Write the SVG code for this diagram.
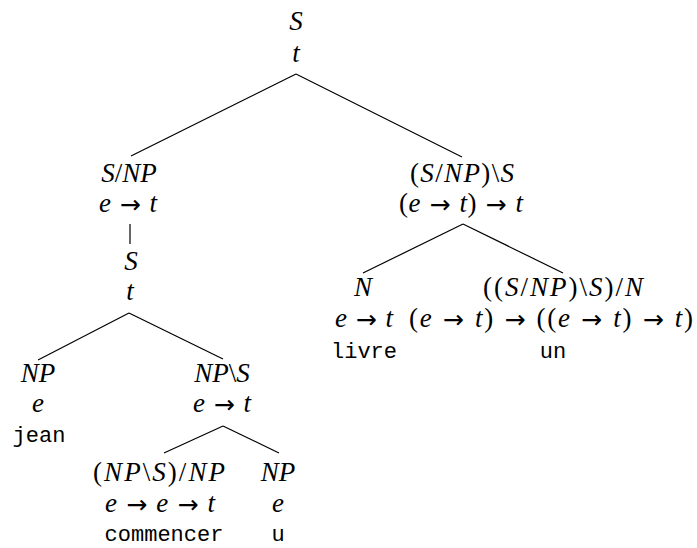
<svg xmlns="http://www.w3.org/2000/svg" width="697" height="548" viewBox="0 0 697 548">
<style>
.m{font-family:"Liberation Serif","Times New Roman","DejaVu Serif",serif;font-style:italic;font-size:27px;text-anchor:middle;fill:#000}
.u{font-style:normal}
.a{font-family:"DejaVu Sans",sans-serif;font-style:normal;font-size:25px;baseline-shift:-1px}
.w{font-family:"Liberation Mono","Courier New","DejaVu Sans Mono",monospace;font-size:22px;text-anchor:middle;fill:#000}
.e line{stroke:#000;stroke-width:1.2}
</style>
<rect width="697" height="548" fill="#fff"/>
<g id="edges" class="e">
<line x1="296" y1="74" x2="131" y2="156"/>
<line x1="296" y1="74" x2="462" y2="157"/>
<line x1="130" y1="224" x2="130" y2="244"/>
<line x1="129" y1="313" x2="38" y2="360"/>
<line x1="129" y1="313" x2="223" y2="359"/>
<line x1="223" y1="426" x2="164" y2="453"/>
<line x1="223" y1="426" x2="279" y2="453"/>
<line x1="463" y1="224" x2="363" y2="273"/>
<line x1="463" y1="224" x2="563" y2="273"/>
</g>
<g id="root">
<text class="m" x="296" y="30">S</text>
<text class="m" x="296" y="62">t</text>
</g>
<g id="s_np">
<text class="m" x="129" y="182">S<tspan class="u">/</tspan>NP</text>
<text class="m" x="128" y="212" textLength="58" lengthAdjust="spacing">e<tspan class="a"> → </tspan>t</text>
</g>
<g id="s_inner">
<text class="m" x="131" y="270">S</text>
<text class="m" x="130" y="300">t</text>
</g>
<g id="np_jean">
<text class="m" x="38" y="382">NP</text>
<text class="m" x="38" y="412">e</text>
<text class="w" x="39" y="442">jean</text>
</g>
<g id="np_s">
<text class="m" x="222" y="382">NP<tspan class="u">\</tspan>S</text>
<text class="m" x="222" y="412" textLength="58" lengthAdjust="spacing">e<tspan class="a"> → </tspan>t</text>
</g>
<g id="commencer">
<text class="m" x="159" y="481" textLength="132" lengthAdjust="spacing"><tspan class="u">(</tspan>NP<tspan class="u">\</tspan>S<tspan class="u">)/</tspan>NP</text>
<text class="m" x="160" y="512" textLength="110" lengthAdjust="spacing">e<tspan class="a"> → </tspan>e<tspan class="a"> → </tspan>t</text>
<text class="w" x="164" y="541">commencer</text>
</g>
<g id="np_u">
<text class="m" x="278" y="481">NP</text>
<text class="m" x="278" y="512">e</text>
<text class="w" x="278" y="541">u</text>
</g>
<g id="det_s">
<text class="m" x="462" y="182" textLength="104" lengthAdjust="spacing"><tspan class="u">(</tspan>S<tspan class="u">/</tspan>NP<tspan class="u">)\</tspan>S</text>
<text class="m" x="461" y="212" textLength="124" lengthAdjust="spacing"><tspan class="u">(</tspan>e<tspan class="a"> → </tspan>t<tspan class="u">)</tspan><tspan class="a"> → </tspan>t</text>
</g>
<g id="n_livre">
<text class="m" x="363" y="296">N</text>
<text class="m" x="364" y="327" textLength="58" lengthAdjust="spacing">e<tspan class="a"> → </tspan>t</text>
<text class="w" x="364" y="358">livre</text>
</g>
<g id="det_un">
<text class="m" x="563" y="296" textLength="160" lengthAdjust="spacing"><tspan class="u">((</tspan>S<tspan class="u">/</tspan>NP<tspan class="u">)\</tspan>S<tspan class="u">)/</tspan>N</text>
<text class="m" x="551" y="327" textLength="284" lengthAdjust="spacing"><tspan class="u">(</tspan>e<tspan class="a"> → </tspan>t<tspan class="u">)</tspan><tspan class="a"> → </tspan><tspan class="u">((</tspan>e<tspan class="a"> → </tspan>t<tspan class="u">)</tspan><tspan class="a"> → </tspan>t<tspan class="u">)</tspan></text>
<text class="w" x="553" y="358">un</text>
</g>
</svg>
